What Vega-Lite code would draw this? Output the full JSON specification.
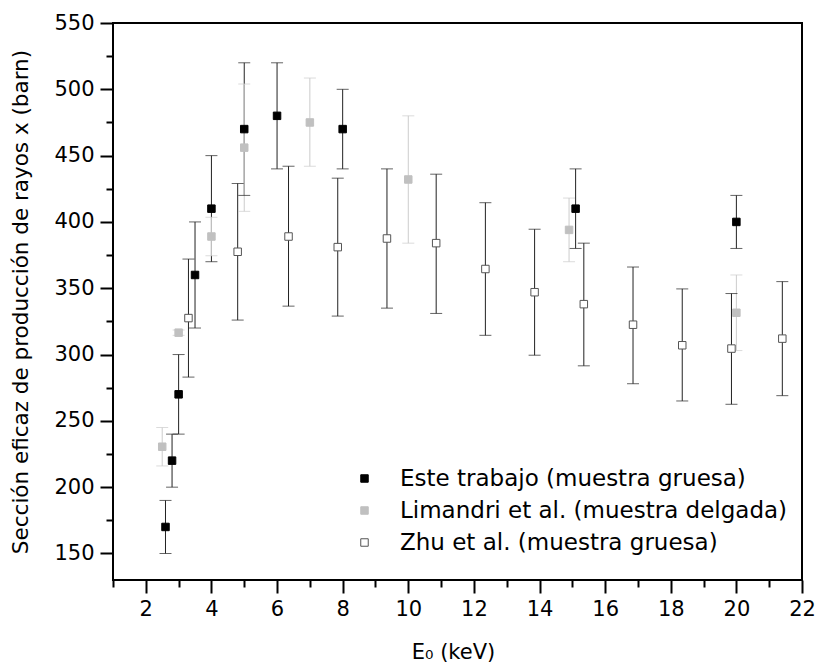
{
  "$schema": "https://vega.github.io/schema/vega-lite/v6.json",
  "width": 689,
  "height": 557,
  "autosize": {"type": "none"},
  "padding": {"left": 113, "top": 23, "right": 13, "bottom": 91},
  "background": "white",
  "config": {
    "view": {"stroke": "black", "strokeWidth": 2},
    "font": "DejaVu Sans",
    "axis": {"grid": false, "labelFont": "DejaVu Sans", "titleFont": "DejaVu Sans", "labelColor": "black", "titleColor": "black", "tickColor": "black", "labelFontSize": 21, "titleFontSize": 21, "titleFontWeight": "normal", "labelFlush": false, "labelOverlap": false},
    "legend": {"orient": "none", "legendX": 240, "legendY": 444, "padding": 0, "symbolSize": 56, "symbolStrokeWidth": 1, "symbolType": "square", "labelFontSize": 23, "labelFont": "DejaVu Sans", "labelColor": "black", "labelOffset": 24, "rowPadding": 8, "labelLimit": 600}
  },
  "data": {
    "values": [
      {"s": "Este trabajo (muestra gruesa)", "x": 2.6, "y": 170, "lo": 150, "hi": 190},
      {"s": "Este trabajo (muestra gruesa)", "x": 2.8, "y": 220, "lo": 200, "hi": 240},
      {"s": "Este trabajo (muestra gruesa)", "x": 3.0, "y": 270, "lo": 240, "hi": 300},
      {"s": "Este trabajo (muestra gruesa)", "x": 3.5, "y": 360, "lo": 320, "hi": 400},
      {"s": "Este trabajo (muestra gruesa)", "x": 4.0, "y": 410, "lo": 370, "hi": 450},
      {"s": "Este trabajo (muestra gruesa)", "x": 5.0, "y": 470, "lo": 420, "hi": 520},
      {"s": "Este trabajo (muestra gruesa)", "x": 6.0, "y": 480, "lo": 440, "hi": 520},
      {"s": "Este trabajo (muestra gruesa)", "x": 8.0, "y": 470, "lo": 440, "hi": 500},
      {"s": "Este trabajo (muestra gruesa)", "x": 15.1, "y": 410, "lo": 380, "hi": 440},
      {"s": "Este trabajo (muestra gruesa)", "x": 20.0, "y": 400, "lo": 380, "hi": 420},
      {"s": "Limandri et al. (muestra delgada)", "x": 2.5, "y": 230.5, "lo": 216, "hi": 245},
      {"s": "Limandri et al. (muestra delgada)", "x": 3.0, "y": 316.5, "lo": 314.5, "hi": 318.5},
      {"s": "Limandri et al. (muestra delgada)", "x": 4.0, "y": 389, "lo": 374.5, "hi": 403.5},
      {"s": "Limandri et al. (muestra delgada)", "x": 5.0, "y": 456, "lo": 408, "hi": 504},
      {"s": "Limandri et al. (muestra delgada)", "x": 7.0, "y": 475, "lo": 442, "hi": 508.5},
      {"s": "Limandri et al. (muestra delgada)", "x": 10.0, "y": 432, "lo": 384, "hi": 480},
      {"s": "Limandri et al. (muestra delgada)", "x": 14.9, "y": 394, "lo": 370, "hi": 418},
      {"s": "Limandri et al. (muestra delgada)", "x": 20.0, "y": 331.5, "lo": 303, "hi": 360},
      {"s": "Zhu et al. (muestra gruesa)", "x": 3.3, "y": 327.5, "lo": 283, "hi": 372},
      {"s": "Zhu et al. (muestra gruesa)", "x": 4.8, "y": 377.5, "lo": 326, "hi": 429},
      {"s": "Zhu et al. (muestra gruesa)", "x": 6.35, "y": 389, "lo": 336.5, "hi": 442},
      {"s": "Zhu et al. (muestra gruesa)", "x": 7.85, "y": 381, "lo": 329, "hi": 433},
      {"s": "Zhu et al. (muestra gruesa)", "x": 9.35, "y": 387.5, "lo": 335, "hi": 440},
      {"s": "Zhu et al. (muestra gruesa)", "x": 10.85, "y": 384, "lo": 331, "hi": 436},
      {"s": "Zhu et al. (muestra gruesa)", "x": 12.35, "y": 364.5, "lo": 314.5, "hi": 414.5},
      {"s": "Zhu et al. (muestra gruesa)", "x": 13.85, "y": 347, "lo": 299.5, "hi": 394.5},
      {"s": "Zhu et al. (muestra gruesa)", "x": 15.35, "y": 338, "lo": 291.5, "hi": 384},
      {"s": "Zhu et al. (muestra gruesa)", "x": 16.85, "y": 322.5, "lo": 278, "hi": 366},
      {"s": "Zhu et al. (muestra gruesa)", "x": 18.35, "y": 307, "lo": 265, "hi": 349.5},
      {"s": "Zhu et al. (muestra gruesa)", "x": 19.85, "y": 304.5, "lo": 262.5, "hi": 346},
      {"s": "Zhu et al. (muestra gruesa)", "x": 21.4, "y": 312, "lo": 269, "hi": 355}
    ]
  },
  "resolve": {"axis": {"x": "independent", "y": "independent"}},
  "layer": [
    {
      "mark": {"type": "rule", "strokeWidth": 1},
      "encoding": {
        "x": {"field": "x", "type": "quantitative", "scale": {"domain": [1, 22], "nice": false, "zero": false},
              "axis": {"orient": "bottom", "values": [1, 3, 5, 7, 9, 11, 13, 15, 17, 19, 21], "tickSize": 7, "tickWidth": 2, "labels": false, "domain": false, "title": null}},
        "y": {"field": "lo", "type": "quantitative", "scale": {"domain": [130, 550], "nice": false, "zero": false},
              "axis": {"orient": "left", "values": [175, 225, 275, 325, 375, 425, 475, 525], "tickSize": 7, "tickWidth": 2, "labels": false, "domain": false, "title": null}},
        "y2": {"field": "hi"},
        "color": {"condition": {"test": "indexof(datum.s, 'Limandri') === 0", "value": "#cccccc"}, "value": "#222222"}
      }
    },
    {
      "mark": {"type": "tick", "orient": "horizontal", "size": 12, "thickness": 1},
      "encoding": {
        "x": {"field": "x", "type": "quantitative", "axis": null},
        "y": {"field": "lo", "type": "quantitative", "axis": null},
        "color": {"condition": {"test": "indexof(datum.s, 'Limandri') === 0", "value": "#cccccc"}, "value": "#222222"}
      }
    },
    {
      "mark": {"type": "tick", "orient": "horizontal", "size": 12, "thickness": 1},
      "encoding": {
        "x": {"field": "x", "type": "quantitative", "axis": null},
        "y": {"field": "hi", "type": "quantitative", "axis": null},
        "color": {"condition": {"test": "indexof(datum.s, 'Limandri') === 0", "value": "#cccccc"}, "value": "#222222"}
      }
    },
    {
      "mark": {"type": "point", "shape": "square", "size": 56, "filled": true, "strokeWidth": 1, "opacity": 1},
      "encoding": {
        "x": {"field": "x", "type": "quantitative",
              "axis": {"orient": "bottom", "values": [2, 4, 6, 8, 10, 12, 14, 16, 18, 20, 22], "tickSize": 13, "tickWidth": 2, "labelPadding": 5, "domain": false, "title": "E₀ (keV)", "titlePadding": 22, "titleX": 340}},
        "y": {"field": "y", "type": "quantitative",
              "axis": {"orient": "left", "values": [150, 200, 250, 300, 350, 400, 450, 500, 550], "tickSize": 13, "tickWidth": 2, "labelPadding": 6, "domain": false, "title": "Sección eficaz de producción de rayos x (barn)", "titleFontSize": 21.5, "titlePadding": 21}},
        "fill": {"field": "s", "type": "nominal", "title": null,
                 "scale": {"domain": ["Este trabajo (muestra gruesa)", "Limandri et al. (muestra delgada)", "Zhu et al. (muestra gruesa)"], "range": ["#000000", "#c0c0c0", "#ffffff"]}},
        "stroke": {"field": "s", "type": "nominal", "title": null,
                   "scale": {"domain": ["Este trabajo (muestra gruesa)", "Limandri et al. (muestra delgada)", "Zhu et al. (muestra gruesa)"], "range": ["#000000", "#c0c0c0", "#555555"]}}
      }
    }
  ]
}
